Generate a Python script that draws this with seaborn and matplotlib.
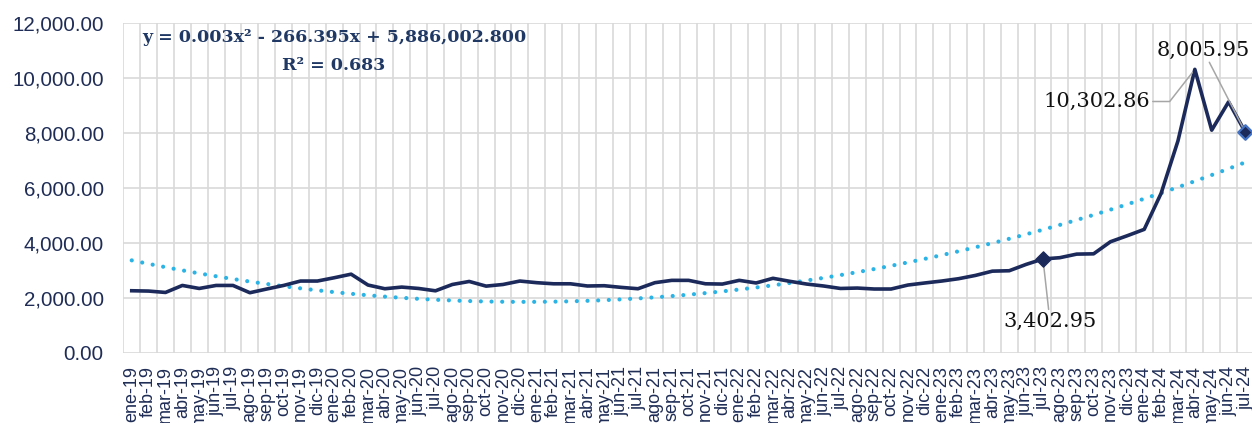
import matplotlib
matplotlib.use("Agg")
import matplotlib.pyplot as plt
import matplotlib.ticker as mticker
import seaborn as sns
import numpy as np
import pandas as pd

# ---- data ----
month_names = ['ene', 'feb', 'mar', 'abr', 'may', 'jun', 'jul', 'ago', 'sep', 'oct', 'nov', 'dic']
years = ['19', '20', '21', '22', '23', '24']
labels = [f"{m}-{y}" for y in years for m in month_names][:67]

values = [2247, 2235, 2185, 2440, 2330, 2440, 2440, 2175, 2310, 2440, 2600, 2600,
          2720, 2850, 2455, 2320, 2380, 2330, 2245, 2475, 2585, 2415, 2475, 2600,
          2540, 2500, 2500, 2420, 2430, 2370, 2320, 2540, 2625, 2625, 2500, 2490,
          2625, 2530, 2700, 2590, 2490, 2420, 2330, 2345, 2310, 2310, 2455, 2530,
          2600, 2685, 2805, 2960, 2975, 3205, 3402.95, 3450, 3580, 3590, 4030, 4250,
          4480, 5790, 7700, 10302.86, 8090, 9120, 8005.95]

equation_text = "y = 0.003x\u00b2 - 266.395x + 5,886,002.800"
r2_text = "R\u00b2 = 0.683"
highlight_idx = [54, 63, 66]   # jul-23, abr-24, jul-24

df = pd.DataFrame({"idx": np.arange(len(values)), "label": labels, "value": values})

NAVY = "#1C2A5B"
TREND = "#2BB3E6"
GRID = "#D9D9D9"
TXT = "#1F2D56"

W, H = 1252, 423
fig = plt.figure(figsize=(W / 100, H / 100), dpi=100)
left, right, top, bottom = 123.3, 1253.9, 22.7, 352.5
ax = fig.add_axes([left / W, (H - bottom) / H, (right - left) / W, (bottom - top) / H])

# trend (quadratic fit)
sns.regplot(data=df, x="idx", y="value", order=2, ci=None, scatter=False, ax=ax,
            truncate=True,
            line_kws=dict(color=TREND, linewidth=3.0, linestyle=(0, (0.01, 2.55)),
                          dash_capstyle="round", solid_capstyle="round"))
# main series
sns.lineplot(data=df, x="idx", y="value", ax=ax, color=NAVY, linewidth=2.6, zorder=3)

# markers
sub = df.iloc[[highlight_idx[0]]]
sns.scatterplot(data=sub, x="idx", y="value", ax=ax, marker="D", s=60,
                color=NAVY, edgecolor=NAVY, linewidth=1, zorder=4)
sub2 = df.iloc[[highlight_idx[2]]]
sns.scatterplot(data=sub2, x="idx", y="value", ax=ax, marker="D", s=55,
                color=NAVY, edgecolor="#4472C4", linewidth=1.6, zorder=4)

ax.set_xlim(-0.5, len(values) - 0.5)
ax.set_ylim(0, 12000)
ax.set_xlabel("")
ax.set_ylabel("")

ax.set_xticks(df["idx"])
ax.set_xticklabels(labels, rotation=90, fontsize=13.0, color=TXT,
                   family="Liberation Sans", va="top", ha="center")
ax.set_xticks(np.arange(-0.5, len(values), 1), minor=True)
ax.set_yticks(np.arange(0, 12001, 2000))
ax.yaxis.set_major_formatter(mticker.FuncFormatter(lambda v, p: f"{v:,.2f}"))
for t in ax.get_yticklabels():
    t.set_fontsize(14.8)
    t.set_color(TXT)
    t.set_family("Liberation Sans")
ax.tick_params(axis="both", which="both", length=0)
ax.tick_params(axis="y", pad=14)
ax.tick_params(axis="x", pad=9.5)

ax.grid(False)
ax.grid(True, axis="x", which="minor", color=GRID, linewidth=1.2)
ax.grid(True, axis="y", which="major", color=GRID, linewidth=1.2)
ax.set_axisbelow(True)
for s in ax.spines.values():
    s.set_visible(False)

# equation
fig.text(334 / W, 1 - 38 / H, equation_text, ha="center", va="center",
         family="DejaVu Serif", fontweight="bold", fontsize=12.5, color="#1F3864")
fig.text(334 / W, 1 - 65 / H, r2_text, ha="center", va="center",
         family="DejaVu Serif", fontweight="bold", fontsize=12.5, color="#1F3864")

# data labels
lead = dict(arrowstyle="-", color="#A6A6A6", linewidth=1.1, shrinkA=0, shrinkB=3)
ann_kw = dict(textcoords="figure pixels", ha="center", va="center",
              family="DejaVu Serif", fontsize=15, color="#111111")
i0 = highlight_idx[0]
ax.annotate(f"{values[i0]:,.2f}", xy=(i0, values[i0]), xytext=(1050, H - 321.7),
            arrowprops=lead, **ann_kw)
i1 = highlight_idx[1]
ax.annotate(f"{values[i1]:,.2f}", xy=(i1, values[i1]), xytext=(1096.7, H - 101.5),
            arrowprops=dict(lead, connectionstyle="angle,angleA=0,angleB=52,rad=0"),
            **ann_kw)
i2 = highlight_idx[2]
ax.annotate(f"{values[i2]:,.2f}", xy=(i2, values[i2]), xytext=(1203, H - 50),
            arrowprops=lead, **ann_kw)

fig.savefig("out.png", dpi=100)
